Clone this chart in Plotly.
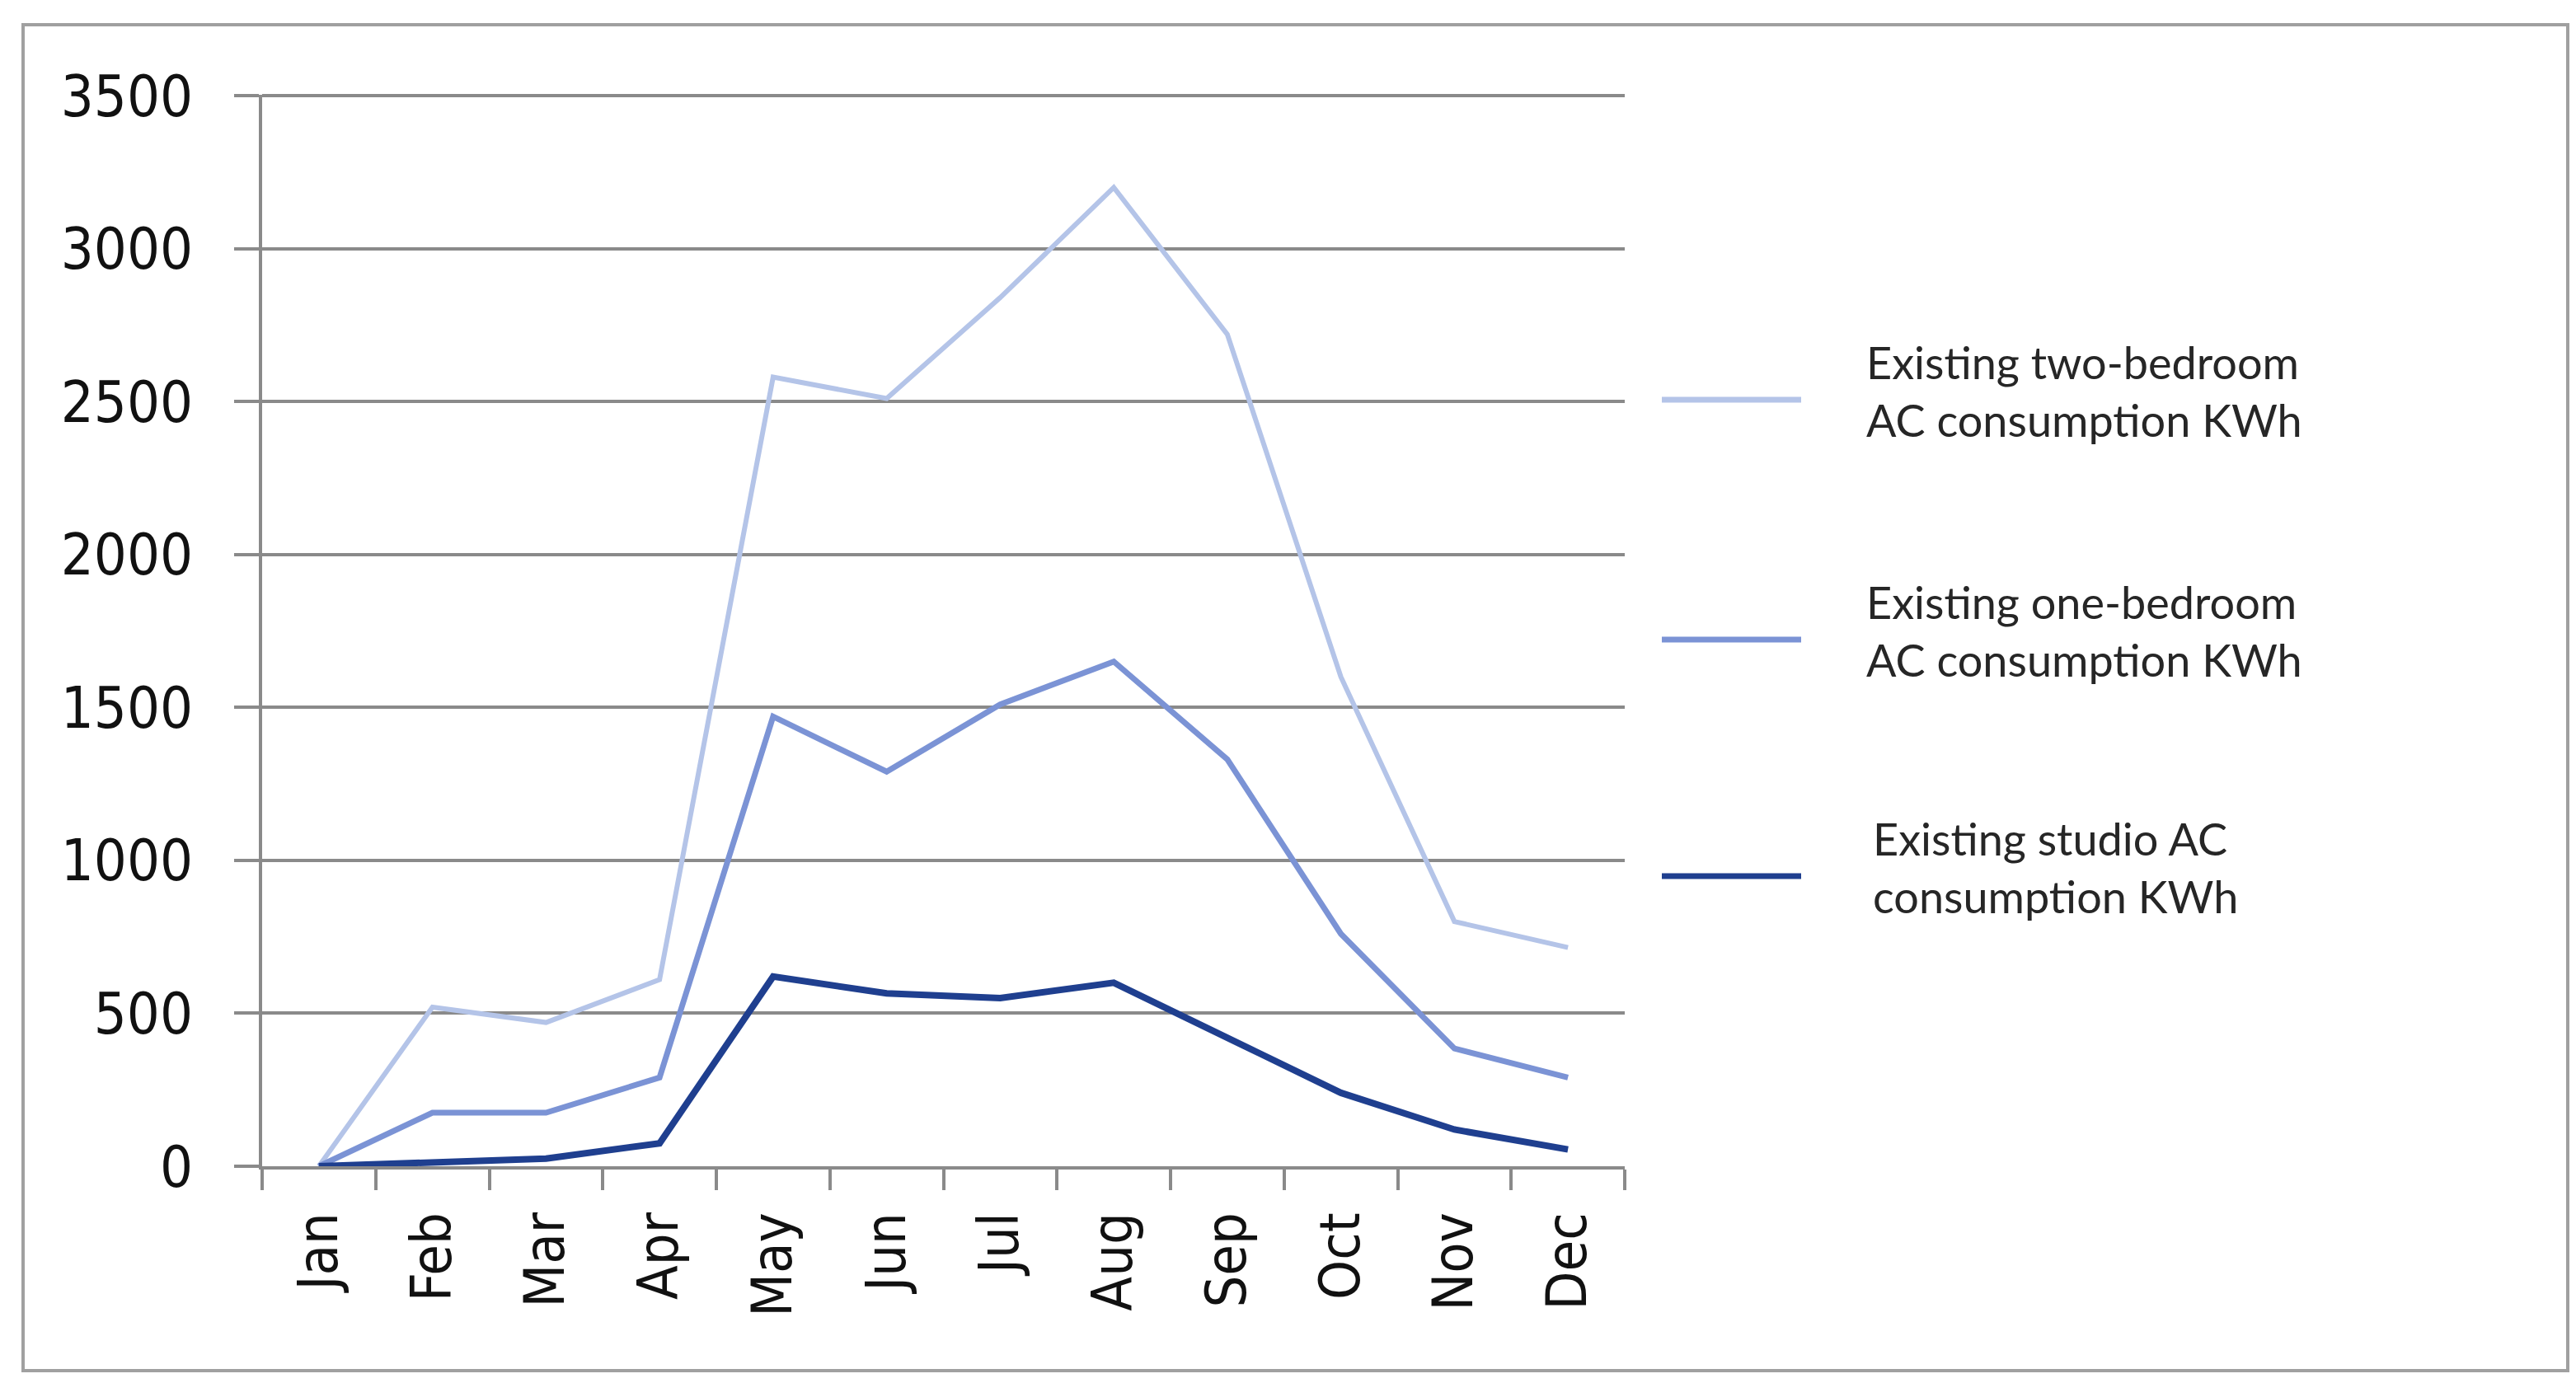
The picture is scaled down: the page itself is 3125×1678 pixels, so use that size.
import plotly.graph_objects as go

months = ["Jan", "Feb", "Mar", "Apr", "May", "Jun", "Jul", "Aug", "Sep", "Oct", "Nov", "Dec"]
two_bedroom = [0, 520, 470, 610, 2580, 2510, 2840, 3200, 2720, 1600, 800, 715]
one_bedroom = [0, 175, 175, 290, 1470, 1290, 1510, 1650, 1330, 760, 385, 290]
studio = [0, 10, 25, 75, 620, 565, 550, 600, 420, 240, 120, 55]

series_names = [
    "Existing two-bedroom<br>AC consumption KWh",
    "Existing one-bedroom<br>AC consumption KWh",
    "Existing studio AC<br>consumption KWh",
]
series_values = [two_bedroom, one_bedroom, studio]
colors = ["#b4c4e8", "#7b93d5", "#1f3f8f"]
widths = [6, 7, 8]
y_ticks = [0, 500, 1000, 1500, 2000, 2500, 3000, 3500]

W, H = 3125, 1678
L, R, T, B = 310, 1162, 107, 271
pw, ph = W - L - R, H - T - B


def px(x):
    return (x - L) / pw


def py(y):
    return (H - B - y) / ph


fig = go.Figure()
for name, vals, c, w in zip(series_names, series_values, colors, widths):
    fig.add_trace(go.Scatter(x=months, y=vals, mode="lines", name=name,
                             line=dict(color=c, width=w), showlegend=False))

grid = "#8a8a8a"
fig.update_layout(
    width=W, height=H,
    margin=dict(l=L, r=R, t=T, b=B),
    paper_bgcolor="white", plot_bgcolor="white",
    xaxis=dict(
        type="category", range=[-0.5, 11.5],
        showline=True, linecolor=grid, linewidth=4,
        ticks="outside", tickson="boundaries", ticklen=25, tickwidth=4, tickcolor=grid,
        tickangle=-90, showgrid=False,
        tickfont=dict(family="DejaVu Sans Condensed", size=68, color="#111111"),
        ticklabelstandoff=25,
    ),
    yaxis=dict(
        range=[0, 3503], tickvals=y_ticks, ticktext=[str(v) for v in y_ticks],
        showline=True, linecolor=grid, linewidth=4,
        ticks="outside", ticklen=30, tickwidth=4, tickcolor=grid,
        showgrid=True, gridcolor=grid, gridwidth=4, zeroline=False,
        tickfont=dict(family="DejaVu Sans Condensed", size=70, color="#111111"),
        ticklabelstandoff=36,
    ),
)

# outer border
fig.add_shape(type="rect", xref="paper", yref="paper",
              x0=px(20), x1=px(3107), y0=py(1655), y1=py(22),
              line=dict(color="#a0a0a0", width=4), fillcolor="rgba(0,0,0,0)", layer="below")

# manual legend
leg_y = [477, 768, 1055]
text_x = [2254, 2254, 2262]
for name, c, ly, tx in zip(series_names, colors, leg_y, text_x):
    fig.add_shape(type="line", xref="paper", yref="paper",
                  x0=px(2008), x1=px(2177), y0=py(ly), y1=py(ly),
                  line=dict(color=c, width=7))
    fig.add_annotation(xref="paper", yref="paper", x=px(tx), y=py(ly - 11),
                       text=name, showarrow=False, xanchor="left", yanchor="middle",
                       align="left", font=dict(family="Lato", size=54, color="#262626"))

fig.write_html("out.html")
